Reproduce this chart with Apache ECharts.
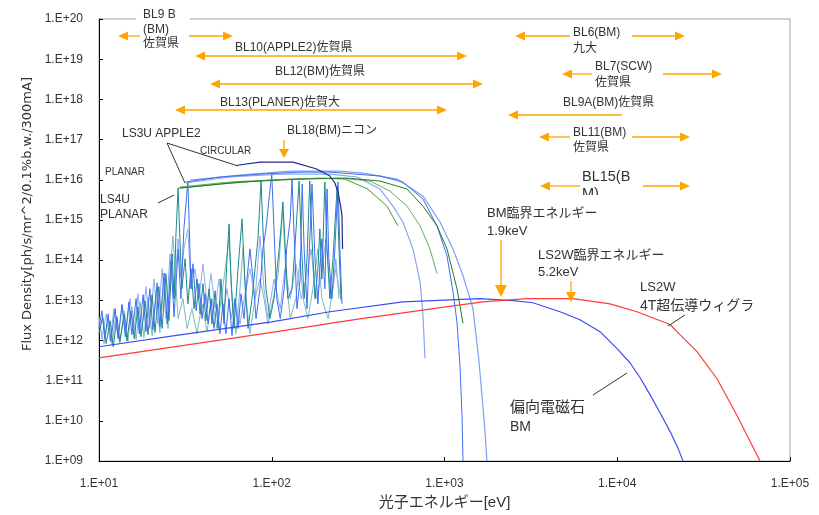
<!DOCTYPE html>
<html><head><meta charset="utf-8">
<script src="https://cdn.jsdelivr.net/npm/echarts@6/dist/echarts.min.js"></script>
<style>html,body{margin:0;padding:0;background:#fff}#c{width:819px;height:515px}</style>
</head><body><div id="c"></div>
<script>
const FONT = '"Liberation Sans","Noto Sans CJK JP",sans-serif';

// ---- data: [photon energy eV, flux density] ----
const bmDipole = [[10,7.0e11],[27.5,1.32e12],[100,2.9e12],[217,5.2e12],[575,9.2e12],[1600,1.1e13],[2490,9.8e12],[3250,8.7e12],[4660,5.2e12],[6080,3.3e12],[7950,1.66e12],[9970,6.3e11],[11850,2.8e11],[13540,1.2e11],[15470,4.5e10],[17680,1.6e10],[20200,5.5e9],[22470,2.1e9],[24040,1.0e9]];
const ls2wWiggler = [[10,3.7e11],[56,1.1e12],[100,1.6e12],[302,3.3e12],[1120,7.3e12],[1670,9.2e12],[3000,1.1e13],[5540,1.1e13],[9080,8.2e12],[13000,5.2e12],[20200,2.5e12],[23050,1.4e12],[28950,5.3e11],[37800,1.12e11],[49340,1.37e10],[58680,3.1e9],[67050,1.0e9]];
const ls4uPlanar = [[10.0,1.48e12],[10.5,3.9e12],[11.0,8.4e11],[11.6,3.1e12],[12.1,7.0e11],[12.7,3.9e12],[13.2,9.4e11],[14.0,4.6e12],[14.5,9.9e11],[15.3,5.5e12],[16.0,1.11e12],[16.8,6.9e12],[17.5,1.25e12],[18.5,9.8e12],[19.2,1.40e12],[20.3,1.38e13],[21.1,1.57e12],[22.2,2.2e13],[23.2,2.0e12],[24.4,4.6e13],[25.4,3.1e12],[26.5,1.43e14],[27.2,1.10e13],[27.9,4.5e14],[28.7,6.2e15],[29.4,3.4e14],[30.2,1.94e13],[31.5,1.08e14],[32.7,8.2e12],[34.1,6.1e13],[35.5,6.2e12],[36.9,3.4e13],[38.5,4.6e12],[40.0,2.6e13],[41.6,3.1e12],[43.4,1.94e13],[45.1,2.6e12],[47.0,1.73e13],[48.9,2.0e12],[50.8,3.4e13],[52.9,2.6e12],[55.1,1.08e14],[56.6,8.0e14],[58.1,3.4e13],[60.4,2.0e12],[63.8,6.1e13],[67.3,1.06e15],[70.0,2.6e13],[72.9,2.0e12],[76.9,1.10e13],[80.0,6.1e13],[83.2,3.4e14],[86.7,9.3e15],[88.9,6.0e14],[92.6,1.94e13],[97.7,3.5e12],[103,1.10e13],[109,1.08e14],[113,6.0e14],[116,2.8e15],[119,3.4e14],[124,1.10e13],[131,1.94e13],[136,1.9e14],[144,9.3e15],[148,3.4e14],[154,1.10e13],[160,1.08e14],[166,9.3e15],[171,3.4e14],[178,1.10e13],[185,6.1e13],[190,6.0e14],[195,3.4e13],[203,8.8e15],[209,1.9e14],[217,1.10e13],[226,1.08e14],[239,6.6e15],[245,1.9e14],[252,1.10e13]];
const ls4uPlanarLight = [[10,2.6e12],[10.7,8.4e11],[11.3,3.5e12],[11.9,7.5e11],[12.5,4.1e12],[13.2,8.4e11],[14.0,5.5e12],[14.7,9.4e11],[15.5,6.9e12],[16.4,1.05e12],[17.3,9.2e12],[18.2,1.18e12],[19.2,1.23e13],[20.3,1.32e12],[21.4,1.73e13],[22.5,1.57e12],[23.8,2.9e13],[25.1,2.0e12],[26.1,9.6e13],[26.8,4.0e14],[27.5,6.1e13],[28.7,3.5e12],[30.6,1.1e13],[32.3,2.0e12],[34.5,6.2e12],[36.9,1.48e12],[39.5,8.2e12],[42.2,1.66e12],[45.1,1.1e13],[48.2,2.0e12],[51.5,1.46e13],[54.3,8.1e13],[56.6,3.4e14],[58.9,1.1e13],[62.1,1.48e12],[65.5,1.94e13],[68.2,2.1e14],[70.9,1.1e13],[74.8,1.48e12],[80.0,1.1e13],[85.5,3.4e13],[90.2,1.1e13],[95.1,2.6e12],[102,1.1e13],[109,4.6e13],[116,1.88e15],[121,3.4e13],[128,3.5e12],[138,1.1e13],[146,1.08e14],[152,1.1e13],[162,3.5e12],[173,1.94e13],[185,1.9e14],[195,1.1e13],[212,3.5e12],[226,1.94e13],[235,1.08e14],[245,1.1e13]];
const ls3uApple2 = [[10.0,2.0e12],[10.4,5.5e12],[10.8,1.11e12],[11.3,4.6e12],[11.7,9.4e11],[12.4,6.2e12],[12.9,1.11e12],[13.6,7.8e12],[14.2,1.25e12],[14.9,9.2e12],[15.5,1.40e12],[16.4,1.10e13],[17.1,1.48e12],[18.0,1.38e13],[18.7,1.66e12],[19.7,1.94e13],[20.5,1.86e12],[21.7,2.7e13],[22.5,2.2e12],[23.8,4.8e13],[24.8,2.6e12],[26.1,9.6e13],[27.2,3.9e12],[28.7,1.9e14],[29.8,1.10e13],[31.0,6.0e14],[32.7,9.3e15],[33.4,4.5e14],[34.1,1.94e13],[35.0,8.1e13],[36.5,5.5e12],[37.9,2.6e13],[39.5,3.5e12],[41.1,1.46e13],[42.8,2.6e12],[44.5,1.10e13],[46.3,2.0e12],[48.2,8.2e12],[50.1,1.48e12],[52.2,8.2e12],[54.3,1.48e12],[56.6,1.10e13],[58.9,1.32e12],[61.2,1.10e13],[63.8,2.0e12],[66.4,1.46e13],[69.1,3.5e12],[71.9,3.4e13],[74.8,1.9e14],[77.9,3.4e13],[81.1,3.5e12],[85.5,1.94e13],[88.9,1.9e14],[92.6,6.0e14],[96.4,3.3e15],[100,1.38e16],[103,6.0e14],[107,1.10e13],[112,3.5e12],[118,1.94e13],[122,1.9e14],[128,1.06e15],[131,1.04e16],[135,3.4e14],[140,6.2e12],[146,3.4e13],[150,7.8e15],[154,1.9e14],[160,6.2e12],[171,7.8e15],[178,1.08e14],[185,8.2e12],[190,6.1e13],[195,3.4e14],[203,1.94e13],[209,5.9e15],[214,1.08e14],[223,1.10e13],[232,1.9e14],[242,8.8e15],[248,1.9e14],[255,8.2e12]];
const ls3uApple2Light = [[10,3.9e12],[10.4,1.11e12],[11.0,4.6e12],[11.6,9.9e11],[12.2,6.2e12],[12.9,1.25e12],[13.6,7.8e12],[14.3,1.40e12],[15.1,1.1e13],[16.0,1.57e12],[16.8,1.46e13],[17.7,1.76e12],[18.7,2.2e13],[19.7,2.0e12],[20.8,3.4e13],[21.9,2.6e12],[23.2,6.1e13],[24.4,3.5e12],[25.8,1.43e14],[27.2,1.1e13],[28.7,3.4e14],[29.8,3.4e13],[31.0,1.9e14],[32.7,6.0e14],[34.1,1.94e13],[35.9,6.1e13],[37.9,1.1e13],[40.0,8.1e13],[42.2,8.2e12],[44.5,4.6e13],[47.0,6.2e12],[49.5,3.4e13],[52.2,4.6e12],[55.1,1.94e13],[58.1,3.5e12],[61.2,1.1e13],[65.5,2.6e12],[70.0,1.46e13],[74.8,6.1e13],[80.0,1.1e13],[85.5,4.0e14],[90.2,1.94e13],[95.1,3.5e12],[103,3.4e13],[112,6.2e12],[119,6.1e13],[128,1.1e13],[138,8.1e13],[148,1.1e13],[158,3.4e13],[169,1.9e14],[180,1.1e13],[193,3.4e13],[206,3.4e14],[220,1.1e13],[235,6.1e13],[252,9.8e12]];
const ls3uCircular = [[63,2.3e16],[85.5,2.75e16],[133,2.75e16],[182,1.85e16],[217,1.24e16],[232,8.3e15],[242,4.95e15],[252,1.88e15],[255,1.26e15],[257,1.9e14]];
const blueEnvA = [[31.9,8.8e15],[50.1,1.17e16],[85.5,1.38e16],[146,1.55e16],[217,1.55e16],[423,1.24e16],[575,8.8e15],[751,3.3e15],[905,7.1e14],[1034,1.28e14],[1120,1.63e13],[1181,2.9e12],[1229,2.4e11],[1263,1.37e10],[1280,1.0e9]];
const blueEnvB = [[33.7,9.8e15],[65.5,1.31e16],[128,1.64e16],[248,1.64e16],[337,1.47e16],[531,1.04e16],[751,3.9e15],[942,8.9e14],[1120,1.9e14],[1280,4.1e13],[1462,6.2e12],[1584,3.0e11],[1693,1.15e10],[1762,1.0e9]];
const blueEnvC = [[31.5,8.3e15],[57.3,1.17e16],[112,1.38e16],[217,1.38e16],[312,1.17e16],[423,5.9e15],[503,2.2e15],[575,8.9e14],[657,1.9e14],[722,2.9e13],[751,4.1e12],[771,3.6e11]];
const greenEnv1 = [[28.7,6.2e15],[50.1,7.8e15],[97.7,9.8e15],[190,1.10e16],[265,1.04e16],[359,5.9e15],[465,2.2e15],[538,7.1e14]];
const greenEnv2 = [[29.4,6.6e15],[57.3,8.8e15],[128,1.04e16],[248,1.10e16],[370,9.3e15],[484,5.2e15],[607,2.2e15],[722,7.1e14],[824,1.9e14],[905,4.6e13]];
const greenEnv3 = [[29.4,6.2e15],[65.5,8.8e15],[146,1.04e16],[273,1.10e16],[423,9.3e15],[607,5.9e15],[751,2.2e15],[905,7.1e14],[1034,1.9e14],[1181,1.94e13],[1280,2.7e12]];

const xName = '光子エネルギー[eV]';
const yName = 'Flux Density[ph/s/mr^2/0.1%b.w./300mA]';

const ORANGE = '#FFA500';
const TXT = '#333';

function expLabel(v){
  const e = Math.round(Math.log10(v));
  return '1.E' + (e >= 0 ? '+' : '-') + String(Math.abs(e)).padStart(2, '0');
}

function line(name, data, color, width, z){
  return {name, type:'line', data, showSymbol:false, symbol:'none', silent:true, animation:false,
    lineStyle:{color, width: width || 1}, itemStyle:{color}, z: z || 2, clip:true};
}

// ---- annotation graphics ----
const G = [];
function txt(s, x, y, size, extra){
  G.push(Object.assign({type:'text', z:100, x, y, style:{text:s, fontSize:size, fontFamily:FONT, fill:TXT,
    textAlign:'left', textVerticalAlign:'middle', align:'left', verticalAlign:'middle'}}, extra || {}));
}
function seg(x1,y1,x2,y2,color,w){
  G.push({type:'line', z:100, shape:{x1,y1,x2,y2}, style:{stroke:color, lineWidth:w}});
}
function poly(pts, color){ G.push({type:'polygon', z:100, shape:{points:pts}, style:{fill:color}}); }
function harrow(x1, x2, y, l, r){
  seg(l ? x1 + 8 : x1, y, r ? x2 - 8 : x2, y, ORANGE, 1.3);
  if (l) poly([[x1,y],[x1+10,y-4.5],[x1+10,y+4.5]], ORANGE);
  if (r) poly([[x2,y],[x2-10,y-4.5],[x2-10,y+4.5]], ORANGE);
}
function varrow(x, y1, y2, hw, hl){
  seg(x, y1, x, y2 - hl + 2, ORANGE, 1.3);
  poly([[x,y2],[x-hw,y2-hl],[x+hw,y2-hl]], ORANGE);
}

// white patch breaking the top frame behind BL9B label
G.push({type:'rect', z:99, shape:{x:136, y:11, width:54, height:13}, style:{fill:'#fff'}});

// beamline ranges
harrow(118, 140, 36, true, false); harrow(189, 233, 36, false, true);
txt('BL9 B', 143, 15, 12); txt('(BM)', 143, 30, 12); txt('佐賀県', 143, 44, 12);
harrow(195, 467, 56, true, true); txt('BL10(APPLE2)佐賀県', 235, 48, 12);
harrow(210, 483, 84, true, true); txt('BL12(BM)佐賀県', 275, 72, 12);
harrow(175, 447, 110, true, true); txt('BL13(PLANER)佐賀大', 220, 103, 12);
varrow(284, 140, 158, 5, 9); txt('BL18(BM)ニコン', 287, 131, 12);
harrow(515, 570, 36, true, false); harrow(632, 685, 36, false, true);
txt('BL6(BM)', 573, 33, 12); txt('九大', 573, 49, 12);
harrow(562, 592, 74, true, false); harrow(663, 722, 74, false, true);
txt('BL7(SCW)', 595, 67, 12); txt('佐賀県', 595, 83, 12);
harrow(508, 622, 115, true, false); txt('BL9A(BM)佐賀県', 563, 103, 12);
harrow(539, 570, 137, true, false); harrow(632, 690, 137, false, true);
txt('BL11(BM)', 573, 133, 12); txt('佐賀県', 573, 148, 12);
harrow(540, 580, 186, true, false); harrow(643, 690, 186, false, true);
txt('BL15(B', 582, 177, 14.5); txt('M)', 582, 194, 14.5);
G.push({type:'rect', z:101, shape:{x:578, y:195, width:30, height:10}, style:{fill:'#fff'}});

// source labels
txt('LS3U APPLE2', 122, 134, 12); txt('CIRCULAR', 200, 151, 10); txt('PLANAR', 105, 172, 10);
seg(167, 143, 185, 183, '#333', 1); seg(167, 143, 238, 166, '#333', 1);
txt('LS4U', 100, 200, 12); txt('PLANAR', 100, 215, 12);
seg(158, 203, 174, 195, '#333', 1);
txt('BM臨界エネルギー', 487, 213, 13); txt('1.9keV', 487, 231, 13);
varrow(501, 240, 297, 6, 12);
txt('LS2W臨界エネルギー', 538, 255, 13); txt('5.2keV', 538, 272, 13);
varrow(571, 281, 302, 5, 10);
txt('LS2W', 640, 287, 13); txt('4T超伝導ウィグラ', 640, 306, 14);
seg(685, 315, 668, 326, '#333', 1);
txt('偏向電磁石', 510, 408, 15); txt('BM', 510, 427, 14);
seg(593, 395, 627, 373, '#333', 1);

const option = {
  backgroundColor:'#fff',
  animation:false,
  grid:{left:99, right:29, top:19, bottom:52, show:true, borderColor:'#a0a0a0', borderWidth:1, backgroundColor:'transparent'},
  xAxis:{type:'log', logBase:10, min:10, max:100000, interval:1,
    name:xName, nameLocation:'middle', nameGap:33,
    nameTextStyle:{fontSize:15, color:TXT, fontFamily:FONT},
    axisLine:{show:true, onZero:false, lineStyle:{color:'#000', width:1}},
    axisTick:{show:true, inside:true, length:4, lineStyle:{color:'#000'}},
    minorTick:{show:false}, splitLine:{show:false},
    axisLabel:{formatter:expLabel, fontSize:12, color:TXT, fontFamily:FONT, margin:17, showMinLabel:true, showMaxLabel:true}},
  yAxis:{type:'log', logBase:10, min:1e9, max:1e20, interval:1,
    name:yName, nameLocation:'middle', nameGap:64, nameRotate:90,
    nameTextStyle:{fontSize:13, color:TXT, fontFamily:'"DejaVu Sans",sans-serif', padding:[0,0,0,52]},
    axisLine:{show:true, onZero:false, lineStyle:{color:'#000', width:1}},
    axisTick:{show:true, inside:true, length:4, lineStyle:{color:'#000'}},
    minorTick:{show:false}, splitLine:{show:false},
    axisLabel:{formatter:expLabel, fontSize:12, color:TXT, fontFamily:FONT, margin:16, showMinLabel:true, showMaxLabel:true}},
  graphic:G,
  series:[
    line('LS4U PLANAR (light)', ls4uPlanarLight, '#79bcbc', 1, 1),
    line('LS3U APPLE2 PLANAR (light)', ls3uApple2Light, '#92abf4', 1, 1),
    line('LS4U PLANAR', ls4uPlanar, '#1f8a8a', 1, 2),
    line('LS3U APPLE2 PLANAR', ls3uApple2, '#3f6ef2', 1, 2),
    line('BL envelope C', blueEnvC, '#8aa6f2', 1.2, 3),
    line('BL envelope B', blueEnvB, '#7e9ef4', 1.2, 3),
    line('BL envelope A', blueEnvA, '#3f6cf0', 1, 3),
    line('green 1', greenEnv1, '#3c9c3c', 1, 3),
    line('green 2', greenEnv2, '#5fb05f', 1, 3),
    line('green 3', greenEnv3, '#1f7f1f', 1, 3),
    line('LS3U APPLE2 CIRCULAR', ls3uCircular, '#26268c', 1.2, 4),
    line('偏向電磁石 BM', bmDipole, '#3b4cf2', 1.2, 5),
    line('LS2W 4T超伝導ウィグラ', ls2wWiggler, '#ff3b3b', 1.2, 5)
  ]
};
const chart = echarts.init(document.getElementById('c'), null, {renderer:'canvas'});
chart.setOption(option);
</script></body></html>
